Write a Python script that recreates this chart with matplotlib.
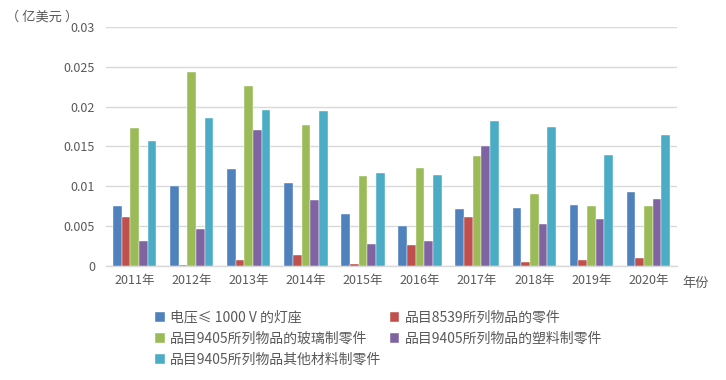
import matplotlib
matplotlib.use("Agg")
import matplotlib.pyplot as plt
import numpy as np

plt.rcParams['font.family'] = ['Noto Sans CJK SC', 'DejaVu Sans']

years = ["2011年", "2012年", "2013年", "2014年", "2015年", "2016年", "2017年", "2018年", "2019年", "2020年"]
series_names = ["电压≤ 1000 V 的灯座", "品目8539所列物品的零件", "品目9405所列物品的玻璃制零件",
                "品目9405所列物品的塑料制零件", "品目9405所列物品其他材料制零件"]
lamp_holders = [0.0075, 0.0100, 0.0122, 0.0104, 0.0065, 0.0050, 0.0071, 0.0073, 0.0077, 0.0093]
parts_8539 = [0.0061, 0.0001, 0.0007, 0.0014, 0.0002, 0.0026, 0.0061, 0.0005, 0.0007, 0.0010]
glass_9405 = [0.0173, 0.0244, 0.0226, 0.0177, 0.0113, 0.0123, 0.0138, 0.0090, 0.0075, 0.0075]
plastic_9405 = [0.0031, 0.0047, 0.0171, 0.0083, 0.0028, 0.0031, 0.0151, 0.0053, 0.0059, 0.0084]
other_9405 = [0.0157, 0.0186, 0.0196, 0.0195, 0.0117, 0.0114, 0.0182, 0.0174, 0.0139, 0.0165]
y_ticks = [0, 0.005, 0.01, 0.015, 0.02, 0.025, 0.03]
y_tick_labels = ["0", "0.005", "0.01", "0.015", "0.02", "0.025", "0.03"]

colors = ["#4F81BD", "#C0504D", "#9BBB59", "#8064A2", "#4BACC6"]
data = [lamp_holders, parts_8539, glass_9405, plastic_9405, other_9405]

fig = plt.figure(figsize=(7.26, 3.8), dpi=100)
ax = fig.add_axes([0.146, 0.30, 0.7865, 0.629])

x = np.arange(len(years))
w = 0.152
handles = []
for i, (vals, c) in enumerate(zip(data, colors)):
    h = ax.bar(x + (i - 2) * w, vals, width=w, color=c, edgecolor="white", linewidth=0.3,
               label=series_names[i], zorder=3)
    handles.append(h)

ax.set_xlim(-0.5, len(years) - 0.5)
ax.set_ylim(0, 0.03)
ax.set_yticks(y_ticks)
ax.set_yticklabels(y_tick_labels)
ax.set_xticks(x)
ax.set_xticklabels(years)
ax.yaxis.grid(True, color="#D9D9D9", linewidth=1, zorder=0)
for s in ["top", "right", "left"]:
    ax.spines[s].set_visible(False)
ax.spines["bottom"].set_color("#D9D9D9")
ax.spines["bottom"].set_linewidth(1)
ax.tick_params(axis="both", length=0, colors="#595959", labelsize=9)
ax.tick_params(axis="x", pad=6)
ax.tick_params(axis="y", pad=8)

fig.text(0.008, 0.955, "（ 亿美元 ）", fontsize=9.5, color="#595959", ha="left", va="center")
fig.text(0.940, 0.255, "年份", fontsize=9.5, color="#595959", ha="left", va="center")

order = [0, 2, 4, 1, 3]
leg = fig.legend([handles[i] for i in order], [series_names[i] for i in order],
                 ncol=2, loc="upper left", bbox_to_anchor=(0.196, 0.215),
                 frameon=False, fontsize=10, handlelength=0.7, handleheight=0.7,
                 handletextpad=0.4, columnspacing=0.6, labelspacing=0.5,
                 labelcolor="#595959")

fig.savefig("out.png", dpi=100)
